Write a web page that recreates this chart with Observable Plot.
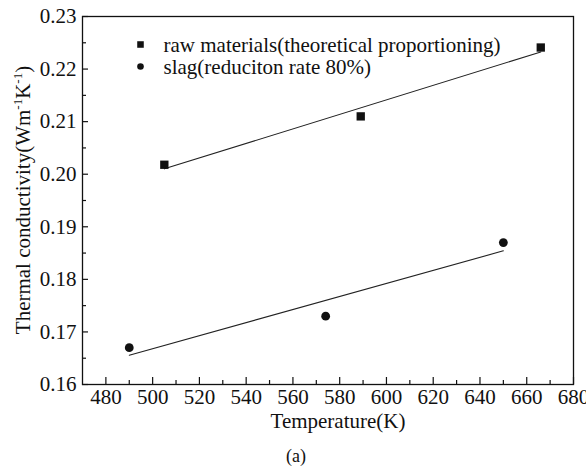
<!DOCTYPE html>
<html>
<head>
<meta charset="utf-8">
<script src="https://cdn.jsdelivr.net/npm/d3@7"></script>
<script src="https://cdn.jsdelivr.net/npm/@observablehq/plot@0.6"></script>
<style>
  html, body { margin: 0; padding: 0; background: #fff; }
  #chart svg { display: block; }
</style>
</head>
<body>
<div id="chart"></div>
<script>
// ---- data ----
const seriesNames = ["raw materials(theoretical proportioning)", "slag(reduciton rate 80%)"];
const seriesSymbols = ["square", "circle"];
const rawTemp = [505, 589, 666];
const rawK = [0.2018, 0.2110, 0.2241];
const slagTemp = [490, 574, 650];
const slagK = [0.1670, 0.1730, 0.1870];
const xTicks = [480, 500, 520, 540, 560, 580, 600, 620, 640, 660, 680];
const xMinorTicks = [490, 510, 530, 550, 570, 590, 610, 630, 650, 670];
const yTicks = [0.16, 0.17, 0.18, 0.19, 0.20, 0.21, 0.22, 0.23];
const yMinorTicks = [0.165, 0.175, 0.185, 0.195, 0.205, 0.215, 0.225];
const xTitle = "Temperature(K)";
const caption = "(a)";

const raw = rawTemp.map((t, i) => ({T: t, k: rawK[i], s: seriesNames[0]}));
const slag = slagTemp.map((t, i) => ({T: t, k: slagK[i], s: seriesNames[1]}));

const W = 586, H = 466;
const mL = 82, mR = 13, mT = 16, mB = 82;
const pw = W - mL - mR, ph = H - mT - mB;
const font = "Liberation Serif";
const ink = "#111";

const legendMarks = seriesNames.flatMap((name, i) => [
  Plot.dot([name], {frameAnchor: "top-left", dx: 58, dy: 28 + i * 22, symbol: seriesSymbols[i], r: i === 0 ? 3.7 : 3.3, fill: ink, stroke: "none"}),
  Plot.text([name], {frameAnchor: "top-left", dx: 81, dy: 29 + i * 22, text: d => d, textAnchor: "start", lineAnchor: "middle", fill: ink, fontSize: 21})
]);

const chart = Plot.plot({
  width: W, height: H,
  marginLeft: mL, marginRight: mR, marginTop: mT, marginBottom: mB,
  x: {domain: [470, 680]},
  y: {domain: [0.16, 0.23]},
  marks: [
    Plot.axisX({ticks: xTicks, tickSize: 0, tickPadding: 5, tickFormat: d3.format("d"), label: null, fontSize: 21}),
    Plot.axisY({ticks: yTicks, tickSize: 0, tickPadding: 6, tickFormat: d3.format(".2f"), label: null, fontSize: 21}),
    Plot.tickX(xTicks, {x: d => d, stroke: ink, strokeWidth: 1.2, insetTop: ph - 7}),
    Plot.tickX(xMinorTicks, {x: d => d, stroke: ink, strokeWidth: 1.2, insetTop: ph - 4}),
    Plot.tickY(yTicks, {y: d => d, stroke: ink, strokeWidth: 1.2, insetRight: pw - 6}),
    Plot.tickY(yMinorTicks, {y: d => d, stroke: ink, strokeWidth: 1.2, insetRight: pw - 4}),
    Plot.linearRegressionY(raw, {x: "T", y: "k", stroke: "#222", strokeWidth: 1.1, ci: 0}),
    Plot.linearRegressionY(slag, {x: "T", y: "k", stroke: "#222", strokeWidth: 1.1, ci: 0}),
    Plot.dot(raw, {x: "T", y: "k", symbol: "square", r: 4.7, fill: ink, stroke: "none"}),
    Plot.dot(slag, {x: "T", y: "k", symbol: "circle", r: 4.4, fill: ink, stroke: "none"}),
    ...legendMarks,
    Plot.frame({stroke: ink, strokeWidth: 1.3})
  ]
});

const svg = d3.select(chart);
svg.attr("font-family", font).attr("font-size", 21);
svg.append("text")
  .attr("x", 338).attr("y", 428)
  .attr("text-anchor", "middle")
  .attr("font-size", 21).attr("fill", ink)
  .text(xTitle);
svg.append("text")
  .attr("x", 296).attr("y", 462)
  .attr("text-anchor", "middle")
  .attr("font-size", 18).attr("fill", ink)
  .text(caption);
const yt = svg.append("text")
  .attr("transform", "rotate(-90)")
  .attr("x", -200).attr("y", 30)
  .attr("text-anchor", "middle")
  .attr("font-size", 21).attr("fill", ink);
const yParts = [["Thermal conductivity(Wm", false], ["-1", true], ["K", false], ["-1", true], [")", false]];
let up = false;
for (const [t, sup] of yParts) {
  const ts = yt.append("tspan").text(t);
  if (sup && !up) { ts.attr("dy", -8).attr("font-size", 13); up = true; }
  else if (sup) { ts.attr("font-size", 13); }
  else if (up) { ts.attr("dy", 8); up = false; }
}
svg.selectAll("text").attr("font-family", font).style("font-family", font).attr("fill", ink);

document.getElementById("chart").appendChild(chart);
</script>
</body>
</html>
